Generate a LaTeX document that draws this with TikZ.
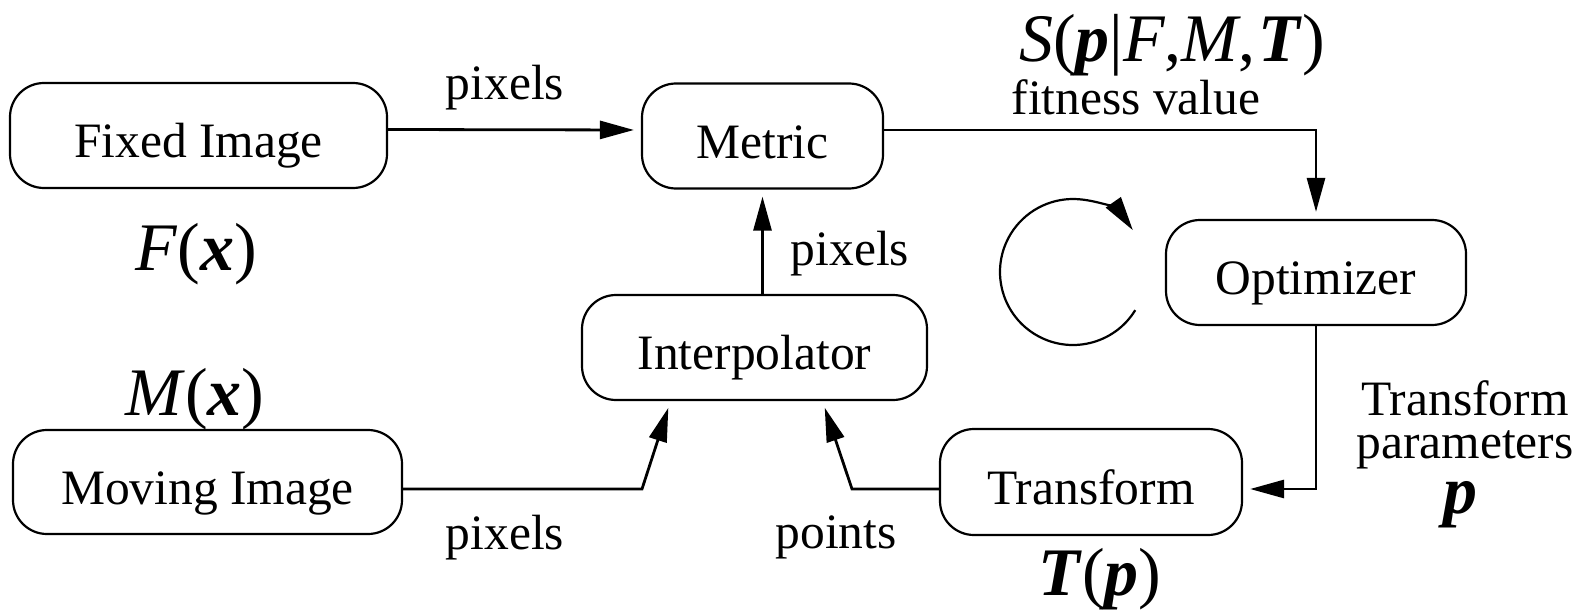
\documentclass[tikz,border=0pt]{standalone}
\usepackage{fontspec}
\setmainfont{Liberation Serif}
\usetikzlibrary{arrows.meta}
\newcommand{\bfit}[1]{\textbf{\textit{#1}}}
\tikzset{
  blockbox/.style={draw, line width=1.1pt, rounded corners=17pt, inner sep=0pt,
    text height=22pt, text depth=0pt, font=\fontsize{24.75pt}{30pt}\selectfont},
  arr/.style={-{Triangle[length=17pt,width=9pt]}, line width=1.4pt, shorten >=3.5pt},
  lbl/.style={anchor=base, inner sep=0pt, font=\fontsize{24.75pt}{30pt}\selectfont},
  mathlbl/.style={anchor=base, inner sep=0pt, font=\fontsize{34pt}{40pt}\selectfont}
}
\begin{document}
\begin{tikzpicture}[x=0.5pt, y=-0.5pt]
\useasboundingbox (0,0) rectangle (1585,610);
% blocks
\node[blockbox, minimum width=188.5pt, minimum height=52.5pt] (fixed) at (198.5,135.5) {Fixed Image};
\node[blockbox, minimum width=120.5pt, minimum height=52.5pt] (metric) at (762.5,136) {Metric};
\node[blockbox, minimum width=150pt, minimum height=52.5pt] (opt) at (1316,272.5) {Optimizer};
\node[blockbox, minimum width=172.5pt, minimum height=52.5pt] (interp) at (754.5,347.5) {Interpolator};
\node[blockbox, minimum width=194.5pt, minimum height=52pt] (moving) at (207.5,482) {Moving Image};
\node[blockbox, minimum width=151pt, minimum height=53pt] (transform) at (1091,482) {Transform};
% corner coordinates
\coordinate (mc) at (642,489);
\coordinate (tc) at (852,489);
% connectors
\draw[arr] ([yshift=3pt]fixed.east) -- ([yshift=3pt]metric.west);
\draw[arr] ([yshift=3pt]metric.east) -| (opt.north);
\draw[arr] (interp.north -| metric.south) -- (metric.south);
\draw[arr] (moving.east |- mc) -- (mc) -- ([xshift=-42pt]interp.south);
\draw[arr] (transform.west |- tc) -- (tc) -- ([xshift=34pt]interp.south);
\draw[arr] (opt.south) |- ([yshift=-3.5pt]transform.east);
% circular arrow
\begin{scope}[shift={(1073,272)}, x=1pt, y=1pt]
\draw[-{Triangle[length=17pt,width=9pt]}, line width=1.1pt] (-31.5:36.5) arc[start angle=-31.5, end angle=-325, radius=36.5];
\end{scope}
% labels
\node[lbl] (lpix1) at (505,100) {pixels};
\node[lbl] (lfit) at (1136,115) {fitness value};
\node[mathlbl] (lS) at (1172,62) {\textit{S}(\bfit{p}|\textit{F},\textit{M},\hspace{1.5pt}\bfit{T})};
\node[mathlbl] (lF) at (196,270) {\textit{F}(\bfit{x})};
\node[mathlbl] (lM) at (195,415) {\textit{M}(\bfit{x})};
\node[lbl] (lpix2) at (850,265) {pixels};
\node[lbl] (lpix3) at (505,549) {pixels};
\node[lbl] (lpts) at (836,548) {points};
\node[mathlbl] (lT) at (1100,595) {\bfit{T}(\bfit{p})};
\node[lbl, align=center, font=\fontsize{24.75pt}{21.5pt}\selectfont] (ltr) at (1465,458) {Transform\\parameters};
\node[mathlbl] (ltr3) at (1460,513) {\bfit{p}};
\end{tikzpicture}
\end{document}
